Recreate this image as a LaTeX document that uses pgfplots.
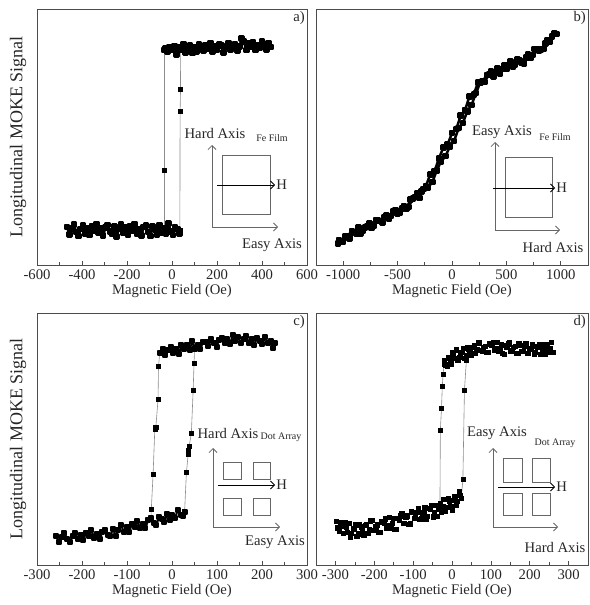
\documentclass[border=0pt]{standalone}
\usepackage{fontspec}
\setmainfont{Liberation Serif}
\usepackage{pgfplots}
\pgfplotsset{compat=1.18}
\usetikzlibrary{arrows.meta}

\pgfplotsset{
  moke/.style={
    scale only axis, ymin=0, ymax=1, ytick=\empty,
    xtick pos=left, minor x tick num=1, tick align=inside,
    axis line style={black!70, line width=0.6pt},
    tick style={black!70, line width=0.5pt},
    major tick length=3pt, minor tick length=2pt,
    ticklabel style={font=\fontsize{11}{12}\selectfont, black!85},
    /pgf/number format/assume math mode=true,
    /pgf/number format/1000 sep={},
    xlabel={Magnetic Field (Oe)},
    xlabel style={font=\fontsize{11}{12}\selectfont, black!85, yshift=3pt},
    ylabel style={font=\fontsize{13.5}{15}\selectfont, black!85,
      at={(axis description cs:-0.07,0.5)}, anchor=center},
  },
  band/.style={black, line width=1.9pt, line join=round, mark=square*, mark size=1.5pt},
  jump/.style={black!45, line width=0.45pt, mark=square*, mark size=1.5pt,
    mark options={black}},
  scat/.style={only marks, black, mark=square*, mark size=1.6pt},
}
\tikzset{
  panel/.style={anchor=north east, inner sep=1.5pt,
    font=\fontsize{11}{12}\selectfont, black!85},
  inset/.style={black!60, line width=0.6pt},
  txt/.style={font=\fontsize{11}{12}\selectfont, black!85, inner sep=0pt},
  sub/.style={font=\fontsize{7.5}{9}\selectfont, black!85, inner sep=0pt},
  barb/.style={-{Straight Barb[length=3pt,width=6pt]}},
  barbs/.style={{Straight Barb[length=3pt,width=6pt]}-{Straight Barb[length=3pt,width=6pt]}},
}

\begin{document}
\begin{tikzpicture}
\path[use as bounding box] (0,0) rectangle (441.75pt,-453.75pt);

% ---------- a) ----------
\begin{axis}[moke, at={(27.75pt,-198.75pt)}, anchor=south west,
  width=202.5pt, height=192pt, xmin=-600, xmax=600,
  xtick={-600,-400,...,600}, ylabel={Longitudinal MOKE Signal}]
\addplot[band] coordinates {
(440,0.851) (430,0.868) (420,0.842) (410,0.862) (400,0.874) (390,0.847)
(380,0.859) (370,0.839) (360,0.871) (350,0.854) (340,0.866) (330,0.840)
(320,0.872) (310,0.884) (300,0.854) (290,0.837) (280,0.863) (270,0.859)
(260,0.842) (250,0.868) (240,0.851) (230,0.831) (220,0.857) (210,0.862)
(200,0.840) (190,0.853) (180,0.835) (170,0.867) (160,0.844) (150,0.859)
(140,0.837) (130,0.847) (120,0.861) (110,0.835) (100,0.851) (90,0.828)
(80,0.857) (70,0.844) (60,0.831) (50,0.863) (40,0.839) (30,0.849)
(20,0.823) (10,0.856) (0,0.840) (-10,0.851) (-20,0.834) (-30,0.845)
(-35,0.840)};
\addplot[band] coordinates {
(-466,0.149) (-456,0.119) (-446,0.142) (-436,0.159) (-426,0.128) (-416,0.113)
(-406,0.140) (-396,0.154) (-386,0.123) (-376,0.145) (-366,0.117) (-356,0.152)
(-346,0.134) (-336,0.161) (-326,0.126) (-316,0.143) (-306,0.115) (-296,0.147)
(-286,0.156) (-276,0.130) (-266,0.121) (-256,0.150) (-246,0.112) (-236,0.141)
(-226,0.158) (-216,0.125) (-206,0.146) (-196,0.118) (-186,0.153) (-176,0.132)
(-166,0.160) (-156,0.122) (-146,0.139) (-136,0.116) (-126,0.148) (-116,0.155)
(-106,0.129) (-96,0.114) (-86,0.151) (-76,0.138) (-66,0.120) (-56,0.157)
(-46,0.127) (-36,0.144) (-26,0.124) (-16,0.162) (-6,0.131) (4,0.117)
(14,0.149) (24,0.140) (34,0.123)};
\addplot[jump] coordinates {(-35,0.840) (-35,0.371) (-35,0.137)};
\addplot[jump] coordinates {(35,0.137) (36,0.599) (38,0.686) (37,0.845)};
\node[panel] at (rel axis cs:1,1) {a)};
\end{axis}

% ---------- b) ----------
\begin{axis}[moke, at={(237pt,-198.75pt)}, anchor=south west,
  width=204pt, height=192pt, xmin=-1250, xmax=1250,
  xtick={-1000,-500,...,1000}]
\addplot[band] coordinates {
(960,0.902) (920,0.893) (880,0.879) (840,0.844) (800,0.836) (760,0.843)
(720,0.808) (680,0.810) (640,0.792) (600,0.802) (560,0.774) (520,0.779)
(480,0.779) (440,0.749) (400,0.750) (360,0.756) (320,0.742) (280,0.717)
(240,0.713) (200,0.667) (160,0.658) (120,0.605) (80,0.584) (40,0.531)
(0,0.515) (-40,0.471) (-80,0.459) (-120,0.416) (-160,0.367) (-200,0.354)
(-240,0.308) (-280,0.288) (-320,0.279) (-360,0.260) (-400,0.227) (-440,0.230)
(-480,0.205) (-520,0.215) (-560,0.191) (-600,0.194) (-640,0.165) (-680,0.174)
(-720,0.153) (-760,0.163) (-800,0.147) (-840,0.123) (-880,0.124) (-920,0.133)
(-960,0.113) (-1000,0.089) (-1040,0.097)};
\addplot[band] coordinates {
(-1046,0.085) (-1020,0.090) (-980,0.113) (-940,0.104) (-900,0.129) (-860,0.146)
(-820,0.134) (-780,0.151) (-740,0.144) (-700,0.175) (-660,0.171) (-620,0.188)
(-580,0.179) (-540,0.211) (-500,0.202) (-460,0.220) (-420,0.221) (-380,0.255)
(-340,0.265) (-300,0.262) (-260,0.296) (-220,0.303) (-180,0.324) (-140,0.370)
(-100,0.405) (-60,0.425) (-20,0.463) (20,0.485) (60,0.535) (100,0.555)
(140,0.600) (180,0.625) (220,0.672) (260,0.713) (300,0.715) (340,0.745)
(380,0.737) (420,0.768) (460,0.766) (500,0.765) (540,0.795) (580,0.783)
(620,0.799) (660,0.788) (700,0.822) (740,0.820) (780,0.841) (820,0.842)
(860,0.866) (900,0.872) (940,0.905)};
\node[panel] at (rel axis cs:1,1) {b)};
\end{axis}

% ---------- c) ----------
\begin{axis}[moke, at={(27.75pt,-423.75pt)}, anchor=south west,
  width=202.5pt, height=189pt, xmin=-300, xmax=300,
  xtick={-300,-200,...,300}, ylabel={Longitudinal MOKE Signal}]
\addplot[band, line width=1.5pt] coordinates {
(-27,0.840) (-21,0.858) (-15,0.833) (-9,0.854) (-3,0.867) (3,0.841)
(9,0.856) (15,0.838) (21,0.872) (27,0.858) (33,0.872) (39,0.853)
(45,0.887) (51,0.863) (57,0.873) (63,0.858) (69,0.886) (75,0.883)
(81,0.868) (87,0.896) (93,0.881) (99,0.867) (105,0.894) (111,0.901)
(117,0.880) (123,0.895) (129,0.878) (135,0.912) (141,0.889) (147,0.903)
(153,0.881) (159,0.895) (165,0.908) (171,0.882) (177,0.897) (183,0.874)
(189,0.902) (195,0.889) (201,0.876) (207,0.906) (213,0.879) (219,0.890)
(225,0.862) (228,0.880)};
\addplot[band, line width=1.5pt] coordinates {
(-257,0.116) (-251,0.093) (-245,0.112) (-239,0.127) (-233,0.103) (-227,0.092)
(-221,0.114) (-215,0.127) (-209,0.103) (-203,0.121) (-197,0.099) (-191,0.128)
(-185,0.115) (-179,0.137) (-173,0.109) (-167,0.124) (-161,0.102) (-155,0.130)
(-149,0.140) (-143,0.121) (-137,0.117) (-131,0.142) (-125,0.115) (-119,0.140)
(-113,0.157) (-107,0.132) (-101,0.152) (-95,0.132) (-89,0.163) (-83,0.149)
(-77,0.174) (-71,0.147) (-65,0.164) (-59,0.148) (-53,0.177) (-47,0.185)
(-41,0.168) (-35,0.158) (-29,0.189) (-23,0.182) (-17,0.169) (-11,0.202)
(-5,0.180) (1,0.197) (7,0.186) (13,0.220) (19,0.200) (25,0.194) (28,0.212)};
\addplot[jump] coordinates {(-27,0.846) (-30,0.787) (-31,0.658) (-36,0.545)
  (-37,0.540) (-38,0.548) (-42,0.361) (-46,0.221) (-47,0.180)};
\addplot[jump] coordinates {(28,0.212) (32,0.366) (36,0.440) (37,0.456)
  (38,0.470) (43,0.523) (47,0.693) (49,0.800) (50,0.855)};
\node[panel] at (rel axis cs:1,1) {c)};
\end{axis}

% ---------- d) ----------
\begin{axis}[moke, at={(237pt,-423.75pt)}, anchor=south west,
  width=204pt, height=189pt, xmin=-350, xmax=350,
  xtick={-300,-200,...,300}]
\addplot[scat] coordinates {
(-297,0.174) (-290,0.133) (-283,0.156) (-276,0.171) (-269,0.129) (-262,0.111)
(-255,0.144) (-248,0.160) (-241,0.124) (-234,0.152) (-227,0.120) (-220,0.163)
(-213,0.143) (-206,0.177) (-199,0.137) (-192,0.160) (-185,0.129) (-178,0.170)
(-171,0.184) (-164,0.156) (-157,0.147) (-150,0.185) (-143,0.142) (-136,0.180)
(-129,0.203) (-122,0.167) (-115,0.195) (-108,0.164) (-101,0.209) (-94,0.188)
(-87,0.226) (-80,0.184) (-73,0.207) (-66,0.183) (-59,0.224) (-52,0.237)
(-45,0.208) (-38,0.194) (-31,0.243) (-24,0.231) (-17,0.215) (-10,0.263)
(-3,0.231) (4,0.256) (11,0.238) (18,0.292) (24,0.265)};
\addplot[scat] coordinates {
(-294,0.148) (-287,0.170) (-280,0.125) (-273,0.150) (-266,0.165) (-259,0.126)
(-252,0.144) (-245,0.114) (-238,0.161) (-231,0.138) (-224,0.157) (-217,0.127)
(-210,0.176) (-203,0.138) (-196,0.152) (-189,0.130) (-182,0.172) (-175,0.167)
(-168,0.145) (-161,0.188) (-154,0.166) (-147,0.142) (-140,0.185) (-133,0.195)
(-126,0.166) (-119,0.188) (-112,0.163) (-105,0.214) (-98,0.185) (-91,0.210)
(-84,0.182) (-77,0.205) (-70,0.230) (-63,0.193) (-56,0.223) (-49,0.191)
(-42,0.238) (-35,0.223) (-28,0.208) (-21,0.260) (-14,0.229) (-7,0.252)
(0,0.216) (7,0.273) (14,0.254) (21,0.278)};
\addplot[scat] coordinates {
(-20,0.810) (-13,0.790) (-6,0.820) (1,0.844) (8,0.821) (15,0.812)
(22,0.842) (29,0.859) (36,0.831) (43,0.856) (50,0.833) (57,0.870)
(64,0.854) (71,0.883) (78,0.850) (85,0.869) (92,0.843) (99,0.876)
(106,0.885) (113,0.858) (120,0.848) (127,0.876) (134,0.837) (141,0.866)
(148,0.882) (155,0.848) (162,0.868) (169,0.839) (176,0.872) (183,0.849)
(190,0.878) (197,0.840) (204,0.858) (211,0.836) (218,0.868) (225,0.876)
(232,0.851) (239,0.836) (246,0.874) (253,0.861) (260,0.844)};
\addplot[scat] coordinates {
(-17,0.795) (-10,0.825) (-3,0.799) (4,0.832) (11,0.854) (18,0.825)
(25,0.843) (32,0.821) (39,0.863) (46,0.846) (53,0.865) (60,0.840)
(67,0.882) (74,0.851) (81,0.863) (88,0.844) (95,0.879) (102,0.873)
(109,0.851) (116,0.883) (123,0.861) (130,0.840) (137,0.872) (144,0.878)
(151,0.850) (158,0.865) (165,0.841) (172,0.879) (179,0.849) (186,0.867)
(193,0.840) (200,0.858) (207,0.876) (214,0.844) (221,0.866) (228,0.837)
(235,0.874) (242,0.858) (249,0.843) (256,0.883)};
\addplot[jump] coordinates {(-20,0.798) (-23,0.757) (-25,0.710) (-27,0.622)
  (-30,0.536) (-31,0.245)};
\addplot[jump] coordinates {(24,0.265) (28,0.340) (32,0.693) (37,0.812)};
\node[panel] at (rel axis cs:1,1) {d)};
\end{axis}

% ---------- insets (picture pixels) ----------
\begin{scope}[x=0.75pt, y=-0.75pt]
  % a
  \draw[inset, barbs] (212,145) -- (212,227) -- (278,227);
  \draw[inset] (222,155) rectangle (270,214);
  \draw[black, line width=0.6pt, barb] (217,185) -- (275,185);
  \node[txt, anchor=west] at (276,185) {H};
  \node[txt] at (215,133) {Hard Axis};
  \node[sub] at (272,138) {Fe Film};
  \node[txt] at (272,245) {Easy Axis};
  % b
  \draw[inset, barbs] (495,142) -- (495,230) -- (560,230);
  \draw[inset] (505,157) rectangle (552,217);
  \draw[black, line width=0.6pt, barb] (493,188) -- (555,188);
  \node[txt, anchor=west] at (556,188) {H};
  \node[txt] at (502,132) {Easy Axis};
  \node[sub] at (555,137) {Fe Film};
  \node[txt] at (553,247) {Hard Axis};
  % c
  \draw[inset, barbs] (213,448) -- (213,527) -- (280,527);
  \draw[inset] (223,462) rectangle (241,479);
  \draw[inset] (253,462) rectangle (270,479);
  \draw[inset] (223,498) rectangle (241,515);
  \draw[inset] (253,498) rectangle (270,515);
  \draw[black, line width=0.6pt, barb] (218,485) -- (275,485);
  \node[txt, anchor=west] at (276,485) {H};
  \node[txt] at (228,433) {Hard Axis};
  \node[sub] at (281,437) {Dot Array};
  \node[txt] at (275,542) {Easy Axis};
  % d
  \draw[inset, barbs] (493,448) -- (493,527) -- (558,527);
  \draw[inset] (503,458) rectangle (522,482);
  \draw[inset] (532,458) rectangle (550,482);
  \draw[inset] (503,493) rectangle (522,515);
  \draw[inset] (532,493) rectangle (550,515);
  \draw[black, line width=0.6pt, barb] (498,487) -- (555,487);
  \node[txt, anchor=west] at (556,487) {H};
  \node[txt] at (497,433) {Easy Axis};
  \node[sub] at (555,443) {Dot Array};
  \node[txt] at (555,547) {Hard Axis};
\end{scope}
\end{tikzpicture}
\end{document}
